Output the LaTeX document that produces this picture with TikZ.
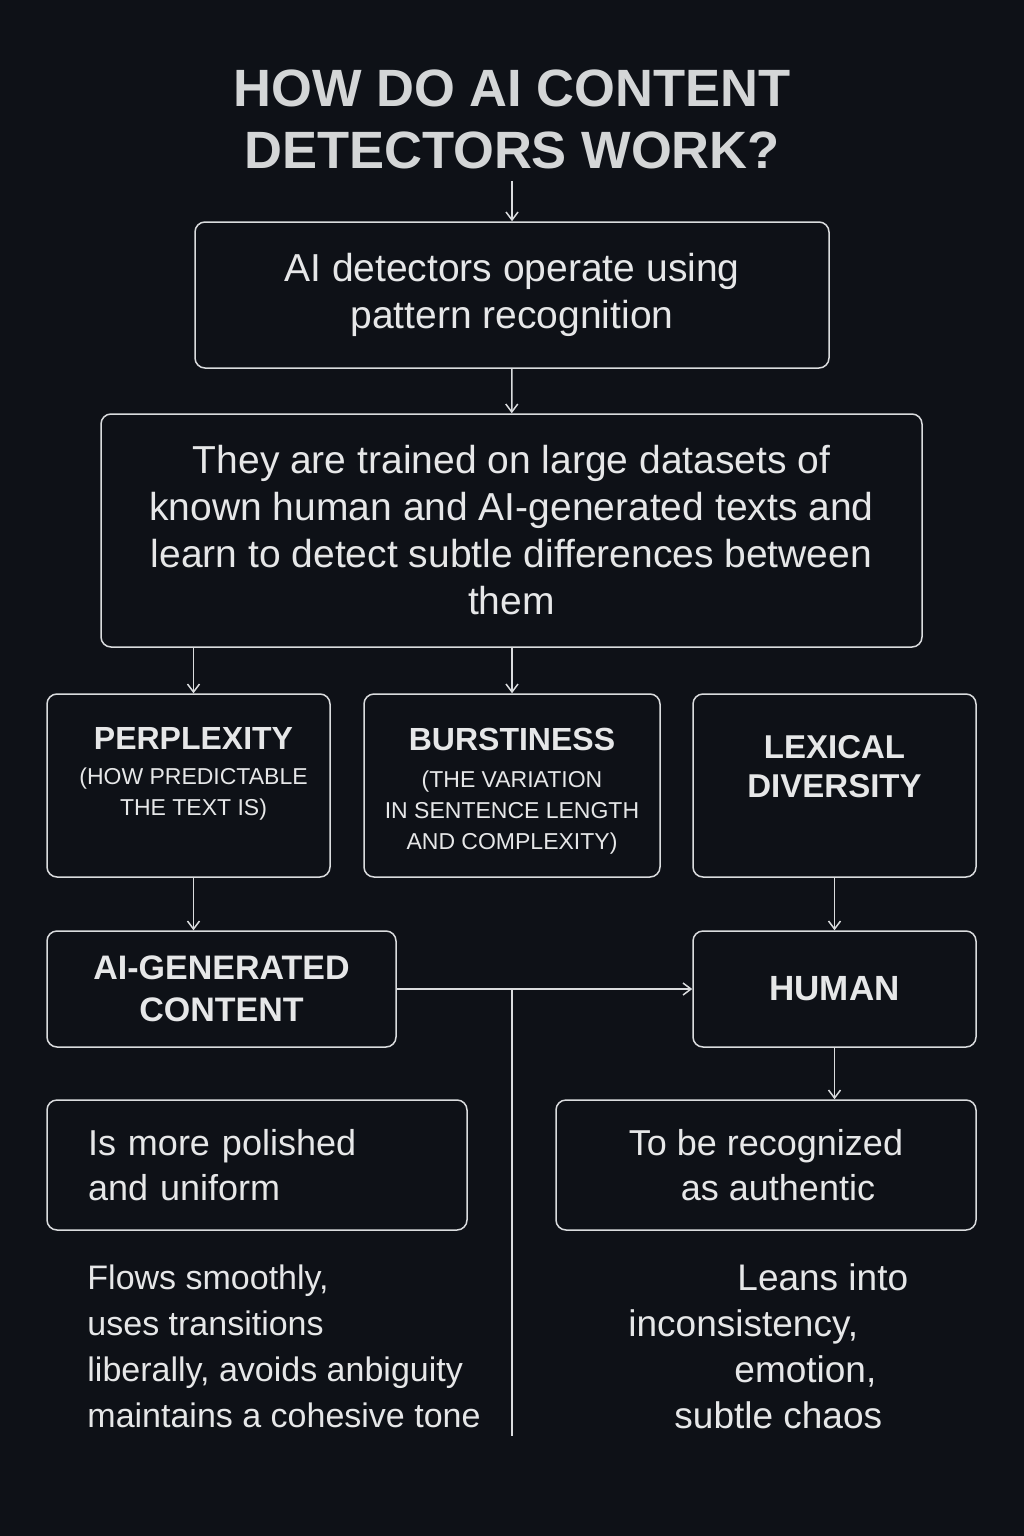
\documentclass[tikz,border=0pt]{standalone}
\usepackage{fontspec}
\setmainfont{Liberation Sans}
\usetikzlibrary{positioning}
\usetikzlibrary{arrows.meta}

\definecolor{bgc}{HTML}{0E1117}
\definecolor{linec}{HTML}{DADCDE}
\definecolor{textc}{HTML}{E6E7E8}
\definecolor{titlec}{HTML}{D4D6D7}

\tikzset{
    box/.style={draw=linec, line width=1.5pt, rounded corners=10pt, text=textc, inner sep=0pt, align=center},
    title/.style={text=titlec, inner sep=0pt, align=center, font=\bfseries\fontsize{52.5}{62}\selectfont},
    bodyL/.style={font=\fontsize{39}{46.5}\selectfont},
    bodyM/.style={font=\fontsize{36}{45}\selectfont},
    head/.style={text=textc, inner sep=0pt, align=center, font=\bfseries\fontsize{33}{39}\selectfont},
    sub/.style={text=textc, inner sep=0pt, align=center, font=\fontsize{23}{31}\selectfont},
    note/.style={text=textc, inner sep=0pt, align=left},
    arr/.style={draw=linec, line width=1.5pt, -{Straight Barb[length=8pt,width=12pt]}},
    wire/.style={draw=linec, line width=1.5pt}
}

\newcommand{\hd}[1]{{\bfseries\fontsize{32}{39}\selectfont #1}}

\begin{document}
\begin{tikzpicture}[x=1pt, y=-1pt]
    % background %
    \fill[bgc] (0,0) rectangle (1024,1536);
    % nodes %
    \node[title] (title) at (512,119) {HOW DO AI CONTENT\\DETECTORS WORK?};
    \node[box, bodyL, minimum width=634pt, minimum height=146pt] (intro) at (512,295)
        {AI detectors operate using\\pattern recognition};
    \node[box, font=\fontsize{39}{47}\selectfont, minimum width=821pt, minimum height=233pt] (train) at (511.5,530.5)
        {They are trained on large datasets of\\known human and AI-generated texts and\\learn to detect subtle differences between\\them};
    % three measures %
    \node[box, minimum width=283pt, minimum height=183pt] (perp) at (188.5,785.5) {};
    \node[sub, below=34.5pt of perp.north, xshift=5pt] (perpT)
        {\hd{PERPLEXITY}\\[4pt](HOW PREDICTABLE\\THE TEXT IS)};
    \node[box, minimum width=296pt, minimum height=183pt] (burst) at (512,785.5) {};
    \node[sub, below=34.5pt of burst.north] (burstT)
        {\hd{BURSTINESS}\\[6pt](THE VARIATION\\IN SENTENCE LENGTH\\AND COMPLEXITY)};
    \node[box, minimum width=283pt, minimum height=183pt] (lex) at (834.5,785.5) {};
    \node[head, below=42pt of lex.north] (lexT) {LEXICAL\\DIVERSITY};
    % verdicts %
    \node[box, font=\bfseries\fontsize{34}{42}\selectfont, minimum width=349pt, minimum height=116pt] (ai) at (221.5,989)
        {AI-GENERATED\\CONTENT};
    \node[box, font=\bfseries\fontsize{35}{42}\selectfont, minimum width=283pt, minimum height=116pt] (human) at (834.5,989)
        {HUMAN};
    \node[box, bodyM, align=left, text width=338pt, inner xsep=41pt, minimum height=130pt] (polish) at (257,1165)
        {Is more polished\\and uniform};
    \node[box, bodyM, minimum width=420pt, minimum height=130pt] (auth) at (766,1165)
        {To be recognized\\\hspace*{24pt}as authentic};
    \node[note, font=\fontsize{34}{46}\selectfont, below right=34pt and 41pt of polish.south west] (flowT)
        {Flows smoothly,\\uses transitions\\liberally, avoids anbiguity\\maintains a cohesive tone};
    \node[note, font=\fontsize{37}{46}\selectfont, below right=33pt and 73pt of auth.south west] (leanT)
        {\hspace*{109pt}Leans into\\inconsistency,\\\hspace*{106pt}emotion,\\\hspace*{46pt}subtle chaos};
    \coordinate (stem) at (512,1436);
    % edges %
    \draw[arr, shorten <=12pt] (title) -- (intro);
    \draw[arr] (intro) -- (train);
    \draw[arr] (train.south -| perpT) -- (perp.north -| perpT);
    \draw[arr] (train.south -| burst) -- (burst);
    \draw[arr] (perp.south -| perpT) -- (ai.north -| perpT);
    \draw[arr] (lex) -- (human);
    \draw[arr] (ai) -- (human);
    \draw[wire] (ai -| stem) -- (stem);
    \draw[arr] (human) -- (human |- auth.north);
\end{tikzpicture}
\end{document}
